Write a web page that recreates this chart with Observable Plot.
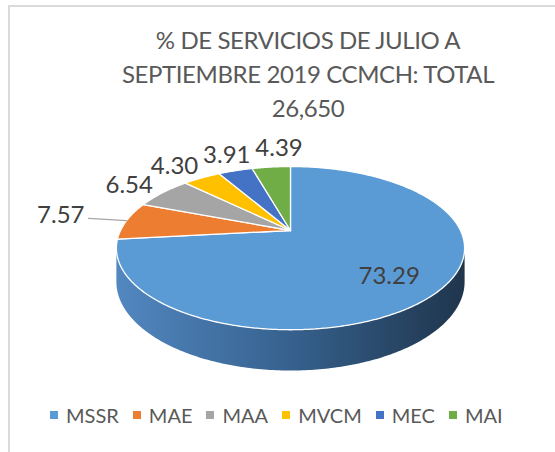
<!DOCTYPE html>
<html><head><meta charset="utf-8">
<script src="https://cdn.jsdelivr.net/npm/d3@7"></script>
<script src="https://cdn.jsdelivr.net/npm/@observablehq/plot@0.6"></script>
<style>
body{margin:0;background:#fff;}
#wrap{position:relative;width:555px;height:452px;overflow:hidden;font-family:Lato,"Open Sans",sans-serif;color:#595959;}
#bl{position:absolute;left:8px;top:5px;width:2px;height:447px;background:#dadada;}
#bt{position:absolute;left:8px;top:5px;width:547px;height:2px;background:#dadada;}
#title{position:absolute;left:61px;top:23px;width:494px;text-align:center;font-size:24px;line-height:34px;letter-spacing:-0.4px;}
#chart{position:absolute;left:0;top:130px;}
#legend{position:absolute;left:50px;top:403px;display:flex;align-items:center;font-size:20px;}
.item{display:flex;align-items:center;margin-right:14px;}
.sw{width:8px;height:8px;margin-right:8px;}
</style></head>
<body>
<div id="wrap">
<div id="bl"></div><div id="bt"></div>
<div id="title">% DE SERVICIOS DE JULIO A<br>SEPTIEMBRE 2019 CCMCH: TOTAL<br>26,650</div>
<div id="chart"></div>
<div id="legend"></div>
</div>
<script>
const categories = ["MSSR","MAE","MAA","MVCM","MEC","MAI"];
const values = [73.29, 7.57, 6.54, 4.30, 3.91, 4.39];
const colors = ["#5b9bd5","#ed7d31","#a5a5a5","#ffc000","#4472c4","#70ad47"];
const valueLabels = ["73.29","7.57","6.54","4.30","3.91","4.39"];

// projection of a tilted disc with mild perspective (radius = 1)
const K = 0.216, TY = 77.8/170, H = 32/170, PX = 170, CX = 290, CY = 230;
const FS = 24;
function proj(theta, r, z = 0) {
  const u = r*Math.sin(theta), v = -r*Math.cos(theta), d = 1 - K*v;
  return {x: u/d, y: (TY*v + H*z)/d};
}
const total = d3.sum(values);
let acc = 0;
const slices = values.map((v, i) => {
  const a0 = acc/total*2*Math.PI; acc += v;
  const a1 = acc/total*2*Math.PI;
  return {key: categories[i], a0, a1, mid: (a0+a1)/2, label: valueLabels[i], i};
});

// top faces
const topPts = [];
for (const s of slices) {
  topPts.push({key: s.key, ...proj(0, 0)});
  const n = Math.max(4, Math.ceil((s.a1 - s.a0)/0.01));
  for (let j = 0; j <= n; j++) topPts.push({key: s.key, ...proj(s.a0 + (s.a1 - s.a0)*j/n, 1)});
}
// side wall (front half)
const tR = Math.acos(-K), tL = 2*Math.PI - tR;
const sidePts = [];
const ns = 200;
for (let j = 0; j <= ns; j++) sidePts.push(proj(tR + (tL - tR)*j/ns, 1, 0));
for (let j = ns; j >= 0; j--) sidePts.push(proj(tR + (tL - tR)*j/ns, 1, 1));

const LH = 17/PX;
const textW = t => t.length*0.44*FS/PX;

// labels
const labelPts = [], leaders = [];
for (const s of slices) {
  if (s.i === 0) { const p = proj(s.mid, 0.72); labelPts.push({x: p.x - 3/PX, y: p.y + 4/PX, text: s.label, anchor: "middle", fixed: true}); continue; }
  const u = Math.sin(s.mid);
  if (Math.abs(u) > 0.95) {
    const p0 = proj(s.mid, 1.0), p1 = proj(s.mid, 1.24);
    leaders.push({...p0, k: s.key}, {...p1, k: s.key});
    labelPts.push({x: p1.x - 4/PX, y: p1.y - 3/PX, text: s.label, anchor: "end", fixed: true});
  } else {
    const p = proj(s.mid, 1.1);
    const len = Math.hypot(p.x, p.y), dx = p.x/len, dy = p.y/len;
    const w = textW(s.label);
    labelPts.push({x: p.x + dx*(w/2 + 2/PX), y: p.y + dy*(LH/2 + 6/PX), w, text: s.label, anchor: "middle"});
  }
}
// push overlapping outside labels to the right
const free = labelPts.filter(d => !d.fixed).sort((a, b) => a.x - b.x);
for (let b = 1; b < free.length; b++) for (let a = 0; a < b; a++) {
  const A = free[a], B = free[b];
  if (Math.abs(A.y - B.y) < LH) {
    const need = (A.w + B.w)/2 + 10/PX;
    if (B.x - A.x < need) B.x = A.x + need;
  }
}

const plot = Plot.plot({
  width: 555, height: 250, margin: 0,
  x: {domain: [(0-CX)/PX, (555-CX)/PX], range: [0, 555], axis: null},
  y: {domain: [(130-CY)/PX, (380-CY)/PX], range: [0, 250], axis: null},
  color: {domain: categories, range: colors},
  marks: [
    Plot.line(sidePts, {x: "x", y: "y", fill: "url(#sideGrad)", stroke: "none", curve: "linear-closed"}),
    Plot.line(topPts, {x: "x", y: "y", z: "key", fill: "key", stroke: "white", strokeWidth: 1.3, strokeLinejoin: "round", curve: "linear-closed"}),
    Plot.line(leaders, {x: "x", y: "y", z: "k", stroke: "#a6a6a6", strokeWidth: 1.3}),
    Plot.text(labelPts.filter(d => d.anchor === "middle"), {x: "x", y: "y", text: "text", fill: "#404040", fontSize: FS, fontFamily: "Lato", textAnchor: "middle"}),
    Plot.text(labelPts.filter(d => d.anchor === "end"), {x: "x", y: "y", text: "text", fill: "#404040", fontSize: FS, fontFamily: "Lato", textAnchor: "end"})
  ]
});
d3.select(plot).insert("defs", ":first-child").html(
  `<linearGradient id="sideGrad" x1="0" x2="1" y1="0" y2="0">
     <stop offset="0" stop-color="#5287c0"/>
     <stop offset="0.5" stop-color="#36618e"/>
     <stop offset="1" stop-color="#1f354c"/>
   </linearGradient>`);
document.getElementById("chart").appendChild(plot);

const legend = d3.select("#legend");
categories.forEach((c, i) => {
  const it = legend.append("div").attr("class", "item");
  it.append("div").attr("class", "sw").style("background", colors[i]);
  it.append("span").text(c);
});
</script>
</body></html>
